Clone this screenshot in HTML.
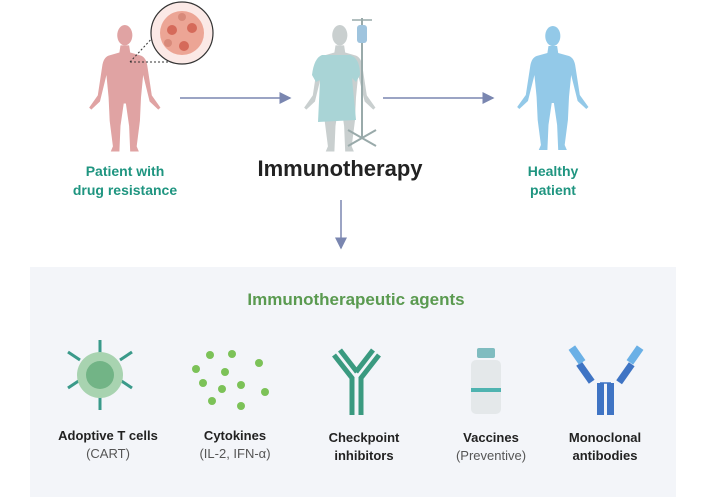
<!DOCTYPE html>
<html><head><style>
body{margin:0;width:706px;height:497px;background:#fff;position:relative;overflow:hidden;font-family:"Liberation Sans",sans-serif}
.t{position:absolute;text-align:center;transform:translateX(-50%);white-space:nowrap}
.teal{color:#1f9580;font-weight:bold;font-size:14px;line-height:19px}
.lab{font-size:13px;line-height:18px;color:#222}
.lab b{font-weight:bold}
.lab span{color:#555}
</style></head><body>
<div style="position:absolute;left:30px;top:267px;width:646px;height:230px;background:#f3f5f9"></div>
<svg width="706" height="497" style="position:absolute;left:0;top:0">
<defs>
<path id="hum" d="M31 21 L39 21 L40 28 L50 31 Q55 33 56 42 L60 70 L68 82 L66 84 L58 76 L52 50 L50 72 L49 95 L46 120 L48 125 L40 125 L39 100 L36 78 L34 78 L31 100 L30 125 L22 125 L24 120 L21 95 L20 72 L18 50 L12 76 L4 84 L2 82 L10 70 L14 42 Q15 33 20 31 L30 28 Z"/>
<marker id="ar" markerWidth="8" markerHeight="8" refX="7" refY="4" orient="auto"><path d="M0 0 L8 4 L0 8Z" fill="#7a86b0"/></marker>
</defs>
<g transform="translate(87,24) scale(1.08,1.02)"><use href="#hum" fill="#e0a3a3"/><ellipse cx="35" cy="11" rx="7" ry="10" fill="#e0a3a3"/></g>
<line x1="130" y1="62" x2="155" y2="35" stroke="#333" stroke-dasharray="2,2"/>
<line x1="130" y1="62" x2="175" y2="62" stroke="#333" stroke-dasharray="2,2"/>
<circle cx="182" cy="33" r="31" fill="#fbe9e6" stroke="#333" stroke-width="1.2"/>
<circle cx="182" cy="33" r="22" fill="#eca595"/>
<circle cx="172" cy="30" r="5" fill="#d56a5a"/><circle cx="192" cy="28" r="5" fill="#d56a5a"/><circle cx="184" cy="46" r="5" fill="#d56a5a"/><circle cx="168" cy="43" r="4" fill="#d88a7a"/><circle cx="182" cy="17" r="4" fill="#d88a7a"/>
<g transform="translate(302,24) scale(1.08,1.02)"><use href="#hum" fill="#c9cfcf"/><ellipse cx="35" cy="11" rx="7" ry="10" fill="#c9cfcf"/></g>
<path d="M322 55 L350 55 Q360 58 360 75 L356 82 L352 78 L356 120 L318 122 L320 80 L316 82 L312 75 Q314 58 322 55Z" fill="#a9d4d6"/>
<line x1="362" y1="18" x2="362" y2="138" stroke="#9aa" stroke-width="2"/>
<line x1="352" y1="20" x2="372" y2="20" stroke="#9aa" stroke-width="1.5"/>
<rect x="357" y="25" width="10" height="18" rx="3" fill="#9fc4de"/>
<path d="M348 130 L376 146 M376 130 L348 146" stroke="#9aa" stroke-width="2"/>
<g transform="translate(515,25) scale(1.08,1.0)"><use href="#hum" fill="#93c9e8"/><ellipse cx="35" cy="11" rx="7" ry="10" fill="#93c9e8"/></g>
<line x1="180" y1="98" x2="290" y2="98" stroke="#7a86b0" stroke-width="1.5" marker-end="url(#ar)"/>
<line x1="383" y1="98" x2="493" y2="98" stroke="#7a86b0" stroke-width="1.5" marker-end="url(#ar)"/>
<line x1="341" y1="200" x2="341" y2="248" stroke="#7a86b0" stroke-width="1.5" marker-end="url(#ar)"/>
<g stroke="#3a9a8a" stroke-width="3">
<line x1="100" y1="340" x2="100" y2="355"/><line x1="100" y1="395" x2="100" y2="410"/>
<line x1="68" y1="352" x2="80" y2="360"/><line x1="132" y1="352" x2="120" y2="360"/>
<line x1="68" y1="388" x2="80" y2="380"/><line x1="132" y1="388" x2="120" y2="380"/>
</g>
<circle cx="100" cy="375" r="23" fill="#a8d3b0"/><circle cx="100" cy="375" r="14" fill="#72b486"/>
<g fill="#7cc258">
<circle cx="210" cy="355" r="4"/><circle cx="232" cy="354" r="4"/><circle cx="259" cy="363" r="4"/><circle cx="196" cy="369" r="4"/><circle cx="225" cy="372" r="4"/><circle cx="203" cy="383" r="4"/><circle cx="241" cy="385" r="4"/><circle cx="222" cy="389" r="4"/><circle cx="265" cy="392" r="4"/><circle cx="212" cy="401" r="4"/><circle cx="241" cy="406" r="4"/>
</g>
<g stroke="#3a9a80" stroke-width="5" fill="none">
<path d="M334 355 L352 378 L352 415"/><path d="M340 350 L357 372"/>
<path d="M379 355 L361 378 L361 415"/><path d="M373 350 L356 372"/>
</g>
<rect x="477" y="348" width="18" height="10" rx="2" fill="#7fbcc0"/>
<rect x="471" y="360" width="30" height="54" rx="5" fill="#e4e8ea"/>
<rect x="471" y="388" width="30" height="4" fill="#4fb3b0"/>
<g fill="#3f74c4">
<rect x="597" y="383" width="7" height="32"/><rect x="607" y="383" width="7" height="32"/>
<rect x="582" y="362" width="7" height="22" transform="rotate(-35 585 373)"/>
<rect x="622" y="362" width="7" height="22" transform="rotate(35 625 373)"/>
</g>
<line x1="600" y1="383" x2="611" y2="383" stroke="#3f74c4" stroke-width="1.5"/>
<g fill="#6ab0e6">
<rect x="573" y="346" width="8" height="18" transform="rotate(-35 577 355)"/>
<rect x="631" y="346" width="8" height="18" transform="rotate(35 635 355)"/>
</g>
</svg>
<div class="t teal" style="left:125px;top:162px">Patient with<br>drug resistance</div>
<div class="t" style="left:340px;top:156px;font-size:22px;font-weight:bold;color:#222">Immunotherapy</div>
<div class="t teal" style="left:553px;top:162px">Healthy<br>patient</div>
<div class="t" style="left:356px;top:290px;font-size:17px;font-weight:bold;color:#5a9a50">Immunotherapeutic agents</div>
<div class="t lab" style="left:108px;top:427px"><b>Adoptive T cells</b><br><span>(CART)</span></div>
<div class="t lab" style="left:235px;top:427px"><b>Cytokines</b><br><span>(IL-2, IFN-α)</span></div>
<div class="t lab" style="left:364px;top:429px"><b>Checkpoint<br>inhibitors</b></div>
<div class="t lab" style="left:491px;top:429px"><b>Vaccines</b><br><span>(Preventive)</span></div>
<div class="t lab" style="left:605px;top:429px"><b>Monoclonal<br>antibodies</b></div>
</body></html>
